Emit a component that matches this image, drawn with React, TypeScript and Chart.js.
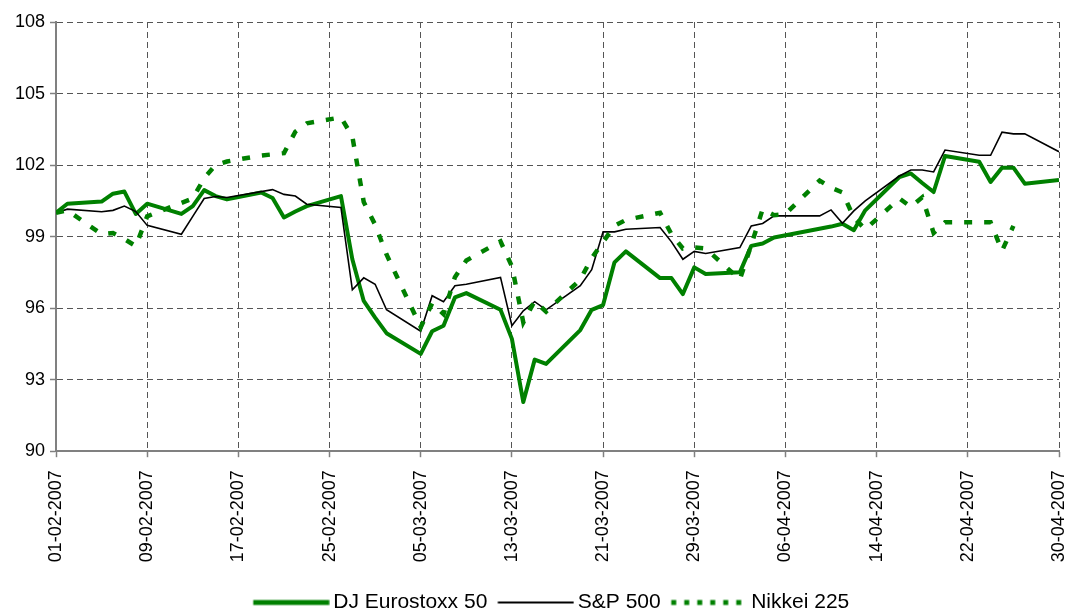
import React, { useEffect, useRef } from 'react';
import { Chart, registerables } from 'chart.js';

Chart.register(...registerables);

// Trading days (weekdays) 1 Feb 2007 - 30 Apr 2007
const tradingDates = [
  '2007-02-01', '2007-02-02', '2007-02-05', '2007-02-06', '2007-02-07', '2007-02-08', '2007-02-09',
  '2007-02-12', '2007-02-13', '2007-02-14', '2007-02-15', '2007-02-16', '2007-02-19', '2007-02-20',
  '2007-02-21', '2007-02-22', '2007-02-23', '2007-02-26', '2007-02-27', '2007-02-28',
  '2007-03-01', '2007-03-02', '2007-03-05', '2007-03-06', '2007-03-07', '2007-03-08', '2007-03-09',
  '2007-03-12', '2007-03-13', '2007-03-14', '2007-03-15', '2007-03-16', '2007-03-19', '2007-03-20',
  '2007-03-21', '2007-03-22', '2007-03-23', '2007-03-26', '2007-03-27', '2007-03-28', '2007-03-29',
  '2007-03-30',
  '2007-04-02', '2007-04-03', '2007-04-04', '2007-04-05', '2007-04-06', '2007-04-09', '2007-04-10',
  '2007-04-11', '2007-04-12', '2007-04-13', '2007-04-16', '2007-04-17', '2007-04-18', '2007-04-19',
  '2007-04-20', '2007-04-23', '2007-04-24', '2007-04-25', '2007-04-26', '2007-04-27', '2007-04-30',
];

// Indexed to 100 on 1 Feb 2007 (null = market closed)
const eurostoxx50 = [
  100.0, 100.38, 100.47, 100.8, 100.89, 99.95, 100.38,
  99.95, 100.28, 100.95, 100.7, 100.56, 100.85, 100.62,
  99.8, 100.05, 100.28, 100.7, 98.05, 96.3,
  95.6, 94.95, 94.08, 95.03, 95.26, 96.45, 96.63,
  95.93, 94.71, 92.06, 93.84, 93.66, 95.08, 95.93,
  96.13, 97.92, 98.38, 97.26, 97.26, 96.59, 97.71,
  97.43,
  97.5, 98.61, 98.71, 98.96, null, null, 99.42,
  99.54, 99.27, 100.1, 101.5, 101.65, 101.25, 100.87,
  102.38, 102.14, 101.29, 101.89, 101.89, 101.22, 101.37,
];

const sp500 = [
  100.0, 100.15, 100.04, 100.1, 100.28, 100.05, 99.47,
  99.1, 99.85, 100.6, 100.68, 100.64, null, 100.97,
  100.77, 100.7, 100.36, 100.22, 96.77, 97.27,
  97.0, 95.93, 95.03, 96.52, 96.27, 96.94, 97.0,
  97.29, 95.26, 95.89, 96.27, 95.93, 96.94, 97.61,
  99.2, 99.2, 99.31, 99.38, 98.78, 98.05, 98.38,
  98.29,
  98.54, 99.45, 99.55, 99.87, null, 99.87, 100.12,
  99.56, 100.08, 100.5, 101.54, 101.79, 101.79, 101.71,
  102.63, 102.41, 102.41, 103.38, 103.31, 103.31, 102.56,
];

const nikkei225 = [
  100.0, 100.1, 99.1, 99.15, 98.9, 98.6, 99.85,
  null, 100.6, 101.45, 102.0, 102.15, 102.4, 102.45,
  102.5, 103.4, 103.75, 104.0, 103.2, 100.45,
  99.5, 98.25, 95.2, 96.2, 95.75, 97.3, 98.0,
  98.8, 97.75, 95.4, 96.3, 95.85, 97.2, 98.1,
  null, 99.45, 99.7, 100.0, 99.1, 98.5, 98.55,
  98.5,
  97.2, 98.65, 100.15, 99.9, 99.95, 101.35, 101.05,
  100.85, 99.8, 99.3, 100.6, 100.25, 100.65, 99.15,
  99.6, 99.6, 99.6, 98.4, 99.45, null, null,
];

const seriesLabels = ['DJ Eurostoxx 50', 'S&P 500', 'Nikkei 225'];
const yMin = 90;
const yMax = 108;
const yStep = 3;
const xTickStepDays = 8;
const firstDate = '2007-02-01';
const lastDate = '2007-04-30';

const DAY_MS = 86400000;
const toUTC = (s: string) => {
  const [y, m, d] = s.split('-').map(Number);
  return Date.UTC(y, m - 1, d);
};
const START = toUTC(firstDate);
const dayIndex = (s: string) => Math.round((toUTC(s) - START) / DAY_MS);
const fmtDate = (v: number) => {
  const dt = new Date(START + v * DAY_MS);
  const dd = String(dt.getUTCDate()).padStart(2, '0');
  const mm = String(dt.getUTCMonth() + 1).padStart(2, '0');
  return `${dd}-${mm}-${dt.getUTCFullYear()}`;
};

// Legend sample: a line image, shifted so it sits close to its text
const makeLegendLine = (color: string, width: number, dash: number[]) => {
  const c = document.createElement('canvas');
  c.width = 84;
  c.height = 12;
  const g = c.getContext('2d') as CanvasRenderingContext2D;
  g.strokeStyle = color;
  g.lineWidth = width;
  g.lineCap = 'butt';
  g.setLineDash(dash);
  g.beginPath();
  g.moveTo(7.5, 6);
  g.lineTo(83.5, 6);
  g.stroke();
  return c;
};

// Shift the (full-width) legend so it is centred like the reference
const legendShift = {
  id: 'legendShift',
  afterLayout(chart: any) {
    const l = chart.legend;
    if (l) {
      l.left += 43;
    }
  },
};

export default function App() {
  const ref = useRef<HTMLCanvasElement>(null);

  useEffect(() => {
    document.body.style.margin = '0';
    Chart.defaults.font.family = '"Liberation Sans", Arial, sans-serif';
    Chart.defaults.color = '#000000';

    const pts = (vals: (number | null)[]) =>
      tradingDates.map((d, i) => ({ x: dayIndex(d), y: vals[i] }));

    const legendSamples = [
      makeLegendLine('#008000', 5, []),
      makeLegendLine('#000000', 2, []),
      makeLegendLine('#008000', 5, [5, 8]),
    ];

    const legendPadBottom = -11;
    const xAxisHeight = 130.8;
    const gridStyle = { color: '#555555', lineWidth: 1, tickColor: '#808080', tickLength: 6, tickWidth: 1.5 };
    const borderStyle = { display: true, color: '#808080', width: 2, dash: [6, 4] };

    const chart = new Chart(ref.current as HTMLCanvasElement, {
      type: 'line',
      plugins: [legendShift],
      data: {
        datasets: [
          {
            label: seriesLabels[0],
            data: pts(eurostoxx50),
            borderColor: '#008000',
            backgroundColor: '#008000',
            borderWidth: 4,
            borderJoinStyle: 'round',
            order: 3,
          },
          {
            label: seriesLabels[1],
            data: pts(sp500),
            borderColor: '#000000',
            backgroundColor: '#000000',
            borderWidth: 1.6,
            order: 2,
          },
          {
            label: seriesLabels[2],
            data: pts(nikkei225),
            borderColor: '#008000',
            backgroundColor: '#008000',
            borderWidth: 4.5,
            borderDash: [8, 12],
            borderCapStyle: 'butt',
            order: 1,
          },
        ],
      },
      options: {
        responsive: false,
        animation: false,
        devicePixelRatio: 1,
        spanGaps: true,
        parsing: false as any,
        normalized: true,
        elements: { point: { radius: 0, hoverRadius: 0 }, line: { tension: 0 } },
        layout: { padding: { left: 0, right: 6, top: 22, bottom: legendPadBottom } },
        events: [],
        scales: {
          x: {
            type: 'linear',
            min: 0,
            max: dayIndex(lastDate),
            afterFit: (s: any) => {
              s.paddingLeft = 0;
              s.paddingRight = 0;
              s.height = xAxisHeight;
            },
            ticks: {
              stepSize: xTickStepDays,
              autoSkip: false,
              maxRotation: 90,
              minRotation: 90,
              padding: 13,
              font: { size: 18 },
              color: '#000000',
              callback: (v: any) => fmtDate(Number(v)),
            },
            grid: gridStyle,
            border: borderStyle,
          },
          y: {
            type: 'linear',
            min: yMin,
            max: yMax,
            afterFit: (s: any) => {
              s.width = 56;
              s.paddingTop = 0;
              s.paddingBottom = 0;
            },
            ticks: { stepSize: yStep, padding: 5, font: { size: 18 }, color: '#000000' },
            grid: gridStyle,
            border: borderStyle,
          },
        },
        plugins: {
          tooltip: { enabled: false },
          legend: {
            position: 'bottom',
            labels: {
              usePointStyle: true,
              pointStyle: 'line',
              pointStyleWidth: 70,
              padding: 10,
              font: { size: 21 },
              color: '#000000',
              sort: (a: any, b: any) => a.datasetIndex - b.datasetIndex,
              generateLabels: (c: any) => {
                const items = (Chart.defaults.plugins.legend.labels as any).generateLabels(c);
                items.forEach((it: any) => {
                  it.pointStyle = legendSamples[it.datasetIndex];
                });
                return items;
              },
            },
          },
        },
      } as any,
    });
    return () => chart.destroy();
  }, []);

  return (
    <div style={{ width: 1065, height: 612 }}>
      <canvas ref={ref} width={1065} height={612} style={{ display: 'block', width: 1065, height: 612 }} />
    </div>
  );
}
